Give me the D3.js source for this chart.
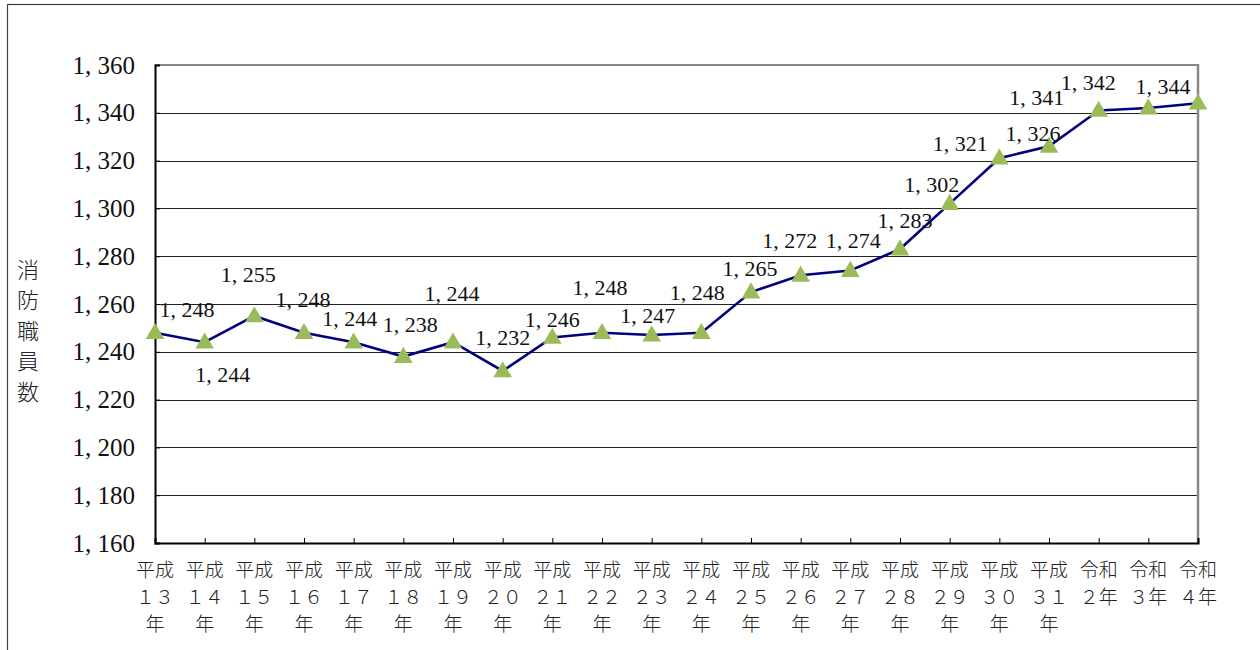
<!DOCTYPE html>
<html>
<head>
<meta charset="utf-8">
<script src="https://cdn.jsdelivr.net/npm/d3@7"></script>
<style>
html,body{margin:0;padding:0;background:#fff;}
svg{display:block;}
</style>
</head>
<body>
<svg id="chart" width="1260" height="650"></svg>
<script>
// ---- data ----
const categories = ["平成13年","平成14年","平成15年","平成16年","平成17年","平成18年","平成19年","平成20年",
  "平成21年","平成22年","平成23年","平成24年","平成25年","平成26年","平成27年","平成28年","平成29年",
  "平成30年","平成31年","令和2年","令和3年","令和4年"];
const staffCounts = [1248,1244,1255,1248,1244,1238,1244,1232,1246,1248,1247,1248,1265,1272,1274,1283,1302,1321,1326,1341,1342,1344];
const yTicks = [1160,1180,1200,1220,1240,1260,1280,1300,1320,1340,1360];
const yTitle = "消防職員数";

// ---- label placement (pixel offsets from the marker) ----
const labelOffsets = [[32,-23],[18,32],[-6,-42],[-1,-33],[-4,-24],[7,-32],[-1,-49],[0,-34],[0,-18],[-2,-45],[-4,-20],
  [-4,-40],[-1,-24],[-11,-35],[3,-30],[5,-29],[-18,-19],[-39,-15],[-16,-13],[-62,-13],[-60,-26],[-35,-17]];

const svg = d3.select("#chart");
const L = 155, R = 1198, T = 65, B = 543;
const serif = "'Liberation Serif','DejaVu Serif',serif";
const cjk = "'Noto Sans CJK JP','Noto Sans CJK SC',sans-serif";

// outer frame
svg.append("rect").attr("x",7.5).attr("y",4.5).attr("width",1300).attr("height",700)
  .attr("fill","none").attr("stroke","#404040").attr("stroke-width",1.2);

const x = d3.scalePoint().domain(d3.range(categories.length)).range([L,R]).padding(0);
const y = d3.scaleLinear().domain([1160,1360]).range([B,T]);

const fmt = d3.formatLocale({decimal:".", thousands:", ", grouping:[3], currency:["",""]}).format(",d");

// gridlines
svg.append("g").selectAll("line").data(yTicks.filter(v=>v>1160 && v<1360)).join("line")
  .attr("x1",L).attr("x2",R).attr("y1",d=>Math.round(y(d))+0.5).attr("y2",d=>Math.round(y(d))+0.5)
  .attr("stroke","#222").attr("stroke-width",1);

// top & right border (gray)
svg.append("line").attr("x1",L).attr("x2",R).attr("y1",T).attr("y2",T).attr("stroke","#888").attr("stroke-width",2);
svg.append("line").attr("x1",R).attr("x2",R).attr("y1",T-1).attr("y2",B+1).attr("stroke","#888").attr("stroke-width",2.5);

// y axis
const yAxis = svg.append("g").attr("transform",`translate(${L},0)`)
  .call(d3.axisLeft(y).tickValues(yTicks).tickSize(-5).tickPadding(20).tickFormat(d=>fmt(d)));
yAxis.select(".domain").attr("stroke","#000").attr("stroke-width",2);
yAxis.selectAll(".tick line").attr("stroke","#000");
yAxis.selectAll("text").attr("font-family",serif).attr("font-size",25).attr("fill","#111")
  .style("white-space","pre").attr("xml:space","preserve");

// x axis
const xAxis = svg.append("g").attr("transform",`translate(0,${B})`)
  .call(d3.axisBottom(x).tickSize(-5).tickFormat(""));
xAxis.select(".domain").attr("stroke","#000").attr("stroke-width",2);
xAxis.selectAll(".tick line").attr("stroke","#000");

// x labels (3 lines)
const toFull = s => s.replace(/[0-9]/g, c => String.fromCharCode(c.charCodeAt(0)+0xFEE0));
function splitCat(c){
  const era = c.slice(0,2);
  const num = toFull(c.slice(2,-1));
  if (num.length >= 2) return [era, num, "年"];
  return [era, num + "年"];
}
const xl = svg.append("g").selectAll("text").data(categories).join("text")
  .attr("x",(d,i)=>x(i)).attr("y",570).attr("text-anchor","middle")
  .attr("font-family",cjk).attr("font-size",19).attr("font-weight",300).attr("fill","#222");
xl.each(function(d){
  const lines = splitCat(d);
  d3.select(this).selectAll("tspan").data(lines).join("tspan")
    .attr("x",d3.select(this).attr("x")).attr("dy",(l,j)=>j===0?"0.35em":"27px").text(l=>l);
});

// y title (vertical)
svg.append("g").selectAll("text").data(Array.from(yTitle)).join("text")
  .attr("x",28).attr("y",(d,i)=>270+i*30.5).attr("dy","0.35em").attr("text-anchor","middle")
  .attr("font-family",cjk).attr("font-size",22).attr("font-weight",300).attr("fill","#222").text(d=>d);

// line
svg.append("path").datum(staffCounts)
  .attr("d",d3.line().x((d,i)=>x(i)).y(d=>y(d)))
  .attr("fill","none").attr("stroke","#000080").attr("stroke-width",2.6);

// markers
const tri = d3.symbol().type(d3.symbolTriangle).size(150);
svg.append("g").selectAll("path").data(staffCounts).join("path")
  .attr("d",tri).attr("transform",(d,i)=>`translate(${x(i)},${y(d)+1})`)
  .attr("fill","#9BBB59");

// data labels
svg.append("g").selectAll("text").data(staffCounts).join("text")
  .attr("x",(d,i)=>x(i)+labelOffsets[i][0]).attr("y",(d,i)=>y(d)+labelOffsets[i][1])
  .attr("dy","0.35em").attr("text-anchor","middle").style("white-space","pre")
  .attr("font-family",serif).attr("font-size",22).attr("fill","#111")
  .text(d=>fmt(d));
</script>
</body>
</html>
